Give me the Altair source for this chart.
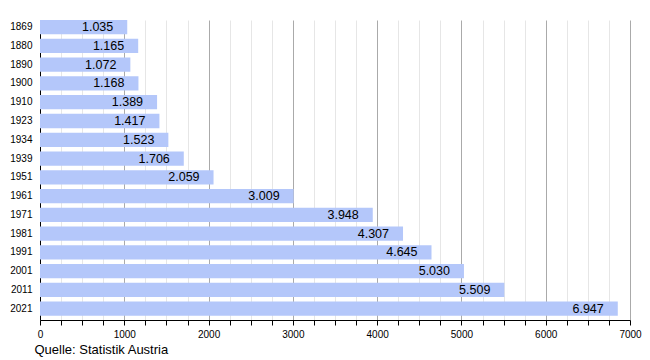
import altair as alt
import pandas as pd

years = ["1869", "1880", "1890", "1900", "1910", "1923", "1934", "1939",
         "1951", "1961", "1971", "1981", "1991", "2001", "2011", "2021"]
# bar lengths as drawn in the picture
bar_values = [1035, 1165, 1072, 1168, 1389, 1417, 1523, 1706,
              2059, 3009, 3948, 4307, 4645, 5030, 5509, 6855]
# value labels as printed on the bars
labels = ["1.035", "1.165", "1.072", "1.168", "1.389", "1.417", "1.523", "1.706",
          "2.059", "3.009", "3.948", "4.307", "4.645", "5.030", "5.509", "6.947"]
x_ticks = list(range(0, 7001, 250))
source = "Quelle: Statistik Austria"

df = pd.DataFrame({"Jahr": years, "Einwohner": bar_values, "Label": labels})

FONT = "Liberation Sans"

base = alt.Chart(df).encode(
    y=alt.Y(
        "Jahr:N",
        sort=years,
        scale=alt.Scale(paddingInner=0.24, paddingOuter=0.11, align=0),
        axis=alt.Axis(
            title=None, ticks=False, labelPadding=8, labelFontSize=10,
            labelColor="black", domainColor="black", labelFont=FONT,
        ),
    ),
    x=alt.X(
        "Einwohner:Q",
        scale=alt.Scale(domain=[0, 7000], nice=False, zero=True),
        axis=alt.Axis(
            values=x_ticks,
            format="d",
            labelExpr="datum.value % 1000 === 0 ? datum.label : ''",
            labelOverlap=False,
            labelFlush=False,
            labelFontSize=10,
            labelColor="black",
            labelFont=FONT,
            labelPadding=4,
            tickSize=5,
            tickColor="black",
            domainColor="black",
            grid=True,
            gridColor={"condition": {"test": "datum.value % 1000 === 0", "value": "#aaaaaa"},
                       "value": "#e6e6e6"},
            title=source,
            titleX=-6,
            titleY=33.5,
            titleAlign="left",
            titleBaseline="alphabetic",
            titleFontSize=13,
            titleFontWeight="normal",
            titleFont=FONT,
            titleColor="black",
        ),
    ),
)

bars = base.mark_bar(color="#b4c7fa")
text = base.mark_text(align="right", dx=-14, fontSize=12.5, font=FONT, color="black").encode(
    text="Label:N"
)

chart = (
    alt.layer(bars, text)
    .properties(
        width=590,
        height=300,
        autosize=alt.AutoSizeParams(type="none"),
        padding={"left": 32, "top": 12, "right": 12, "bottom": 40},
    )
    .configure_view(stroke=None)
)

chart.save("out.html", embed_options={"renderer": "svg", "actions": False})
